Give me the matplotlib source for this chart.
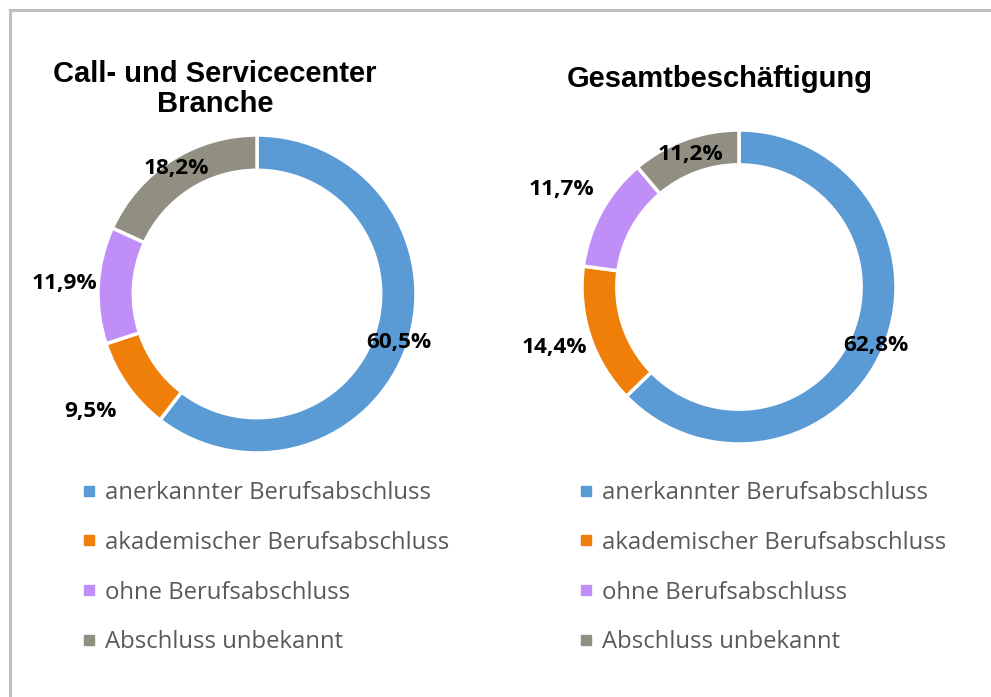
import numpy as np
import matplotlib
matplotlib.use("Agg")
import matplotlib.pyplot as plt
from matplotlib.lines import Line2D

categories = ["anerkannter Berufsabschluss", "akademischer Berufsabschluss",
              "ohne Berufsabschluss", "Abschluss unbekannt"]
values_call = [60.5, 9.5, 11.9, 18.2]
values_gesamt = [62.8, 14.4, 11.7, 11.2]
labels_call = ["60,5%", "9,5%", "11,9%", "18,2%"]
labels_gesamt = ["62,8%", "14,4%", "11,7%", "11,2%"]
titles = ["Call- und Servicecenter\nBranche", "Gesamtbeschäftigung"]

colors = ["#5B9BD5", "#F07F09", "#BF8FF7", "#918E82"]

W, H = 991, 697
fig = plt.figure(figsize=(W / 100, H / 100), dpi=100)
fig.patch.set_facecolor("white")

# frame
fig.add_artist(Line2D([10 / W, 1.0], [1 - 10 / H, 1 - 10 / H], transform=fig.transFigure,
                      color="#BFBFBF", lw=2.2))
fig.add_artist(Line2D([10 / W, 10 / W], [0, 1 - 10 / H], transform=fig.transFigure,
                      color="#BFBFBF", lw=2.2))


def donut(cx, cy, r, vals, labs, label_r, title, title_xy, legend_xy):
    ax = fig.add_axes([(cx - r) / W, (H - cy - r) / H, 2 * r / W, 2 * r / H])
    wedges, _ = ax.pie(vals, colors=colors, startangle=90, counterclock=False,
                       radius=1.0, wedgeprops=dict(width=0.222, edgecolor="white", linewidth=2.5))
    ax.set_xlim(-1, 1)
    ax.set_ylim(-1, 1)
    ax.set_aspect("equal")
    ax.axis("off")
    total = sum(vals)
    cum = 0.0
    for v, lab, lr in zip(vals, labs, label_r):
        mid = 90 - (cum + v / 2) / total * 360
        cum += v
        a = np.deg2rad(mid)
        ax.text(lr * np.cos(a), lr * np.sin(a), lab, ha="center", va="center",
                fontsize=16.2, fontweight="bold", family="Open Sans", color="black")
    fig.text(title_xy[0] / W, 1 - title_xy[1] / H, title, ha="center", va="center",
             fontsize=21, fontweight="bold", family="Liberation Sans", linespacing=1.1)
    handles = [Line2D([], [], marker="s", linestyle="none", markersize=7.5,
                      markerfacecolor=c, markeredgecolor=c) for c in colors]
    fig.legend(handles, categories, loc="upper left",
               bbox_to_anchor=(legend_xy[0] / W, 1 - legend_xy[1] / H),
               frameon=False, prop=dict(family="Open Sans", size=17.2),
               labelcolor="#595959", handlelength=0.55, handletextpad=0.4,
               labelspacing=1.08, borderaxespad=0, borderpad=0)


donut(257, 294, 159, values_call, labels_call, [0.94, 1.28, 1.21, 0.94],
      titles[0], (215, 89), (82, 481))
donut(739, 287, 157, values_gesamt, labels_gesamt, [0.95, 1.24, 1.29, 0.90],
      titles[1], (720, 79), (579, 481))

fig.savefig("out.png", dpi=100, facecolor="white")
